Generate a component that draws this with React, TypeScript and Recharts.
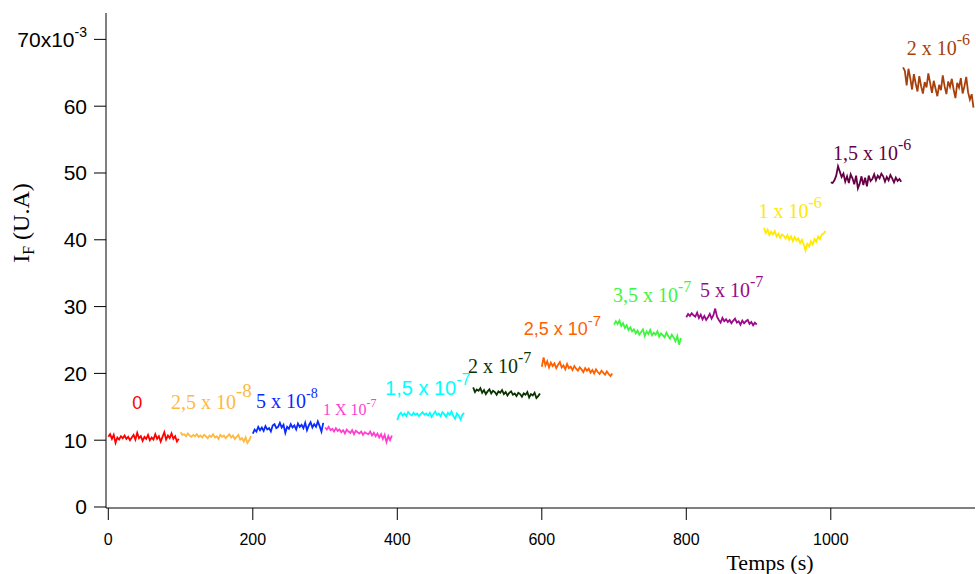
import React from 'react';
import { LineChart, Line, XAxis, YAxis, ReferenceDot } from 'recharts';

// time step between samples (s)
const STEP = 2.5;

const segmentStarts = [0, 100, 200, 300, 400, 505, 600, 700, 800, 907.5, 1000, 1100];

const conc0 = [10.5, 10.9, 10.2, 10.8, 9.6, 10.4, 10.1, 10.6, 10.3, 10.7, 10.2, 10.5, 10.0, 10.4, 10.8, 10.1, 11.1, 10.3, 10.6, 9.9, 10.5, 10.2, 10.8, 10.0, 10.4, 10.1, 10.9, 10.2, 10.6, 9.8, 10.5, 11.2, 10.1, 10.7, 10.3, 11.0, 10.2, 10.6, 9.8, 10.2];
const conc25e8 = [11.2, 10.8, 10.9, 10.6, 11.0, 10.7, 10.5, 10.8, 10.6, 10.9, 10.5, 10.7, 10.4, 10.8, 10.6, 10.3, 10.7, 10.5, 10.9, 10.4, 10.6, 10.2, 10.8, 10.5, 10.7, 10.3, 10.6, 10.9, 10.4, 10.7, 10.2, 10.5, 10.8, 10.1, 10.3, 9.8, 10.4, 9.6, 10.0, 10.6];
const conc5e8 = [11.0, 11.6, 11.3, 12.0, 11.5, 11.9, 11.4, 12.1, 11.6, 11.8, 11.3, 12.2, 12.4, 11.8, 12.0, 12.6, 11.9, 12.3, 11.1, 12.0, 11.7, 12.4, 11.9, 12.2, 11.6, 12.5, 12.0, 12.3, 11.8, 12.6, 11.5, 12.2, 12.7, 11.9, 12.4, 12.0, 12.8, 12.1, 11.3, 12.6];
const conc1e7 = [11.9, 11.6, 12.0, 11.5, 11.7, 11.3, 11.8, 11.4, 11.6, 11.2, 11.5, 11.0, 11.6, 11.3, 11.1, 11.5, 10.9, 11.4, 11.2, 11.0, 11.3, 10.8, 11.2, 11.0, 10.9, 11.3, 10.7, 11.1, 10.6, 11.0, 10.4, 10.9, 10.2, 10.8, 9.7, 10.6, 10.0, 10.7];
const conc15e7 = [13.0, 13.8, 14.1, 13.7, 14.0, 13.6, 14.2, 13.9, 13.7, 14.1, 13.8, 14.0, 13.6, 13.9, 14.2, 13.8, 14.0, 13.7, 14.1, 13.5, 13.9, 14.3, 13.8, 14.0, 13.6, 14.2, 13.9, 13.5, 14.1, 13.8, 14.3, 13.6, 13.2, 14.0, 13.7, 13.1, 13.8, 14.1];
const conc2e7 = [17.9, 17.2, 17.6, 17.4, 17.8, 17.1, 17.5, 16.9, 17.3, 17.6, 17.0, 17.4, 17.2, 16.8, 17.3, 17.1, 17.5, 16.9, 17.2, 16.7, 17.1, 17.3, 16.8, 17.0, 16.6, 17.1, 16.9, 16.5, 17.0, 16.8, 17.2, 16.4, 16.9, 16.7, 17.1, 16.3, 16.6, 17.0];
const conc25e7 = [21.0, 22.4, 21.2, 21.8, 20.9, 21.6, 21.1, 21.5, 20.8, 21.3, 21.7, 20.9, 21.2, 20.6, 21.4, 20.8, 21.0, 20.5, 21.1, 20.7, 20.4, 20.9, 20.6, 20.2, 20.8, 20.4, 20.7, 20.1, 20.5, 20.0, 20.6, 20.2, 19.9, 20.4, 20.1, 19.8, 20.3, 19.9, 19.6, 20.0];
const conc35e7 = [27.3, 27.8, 27.4, 27.9, 27.1, 27.5, 26.8, 27.2, 26.5, 26.9, 26.3, 26.6, 26.0, 26.4, 25.8, 26.2, 26.6, 25.6, 26.3, 25.9, 26.5, 25.7, 26.1, 25.8, 26.3, 25.5, 26.0, 25.7, 25.4, 26.1, 25.6, 25.2, 25.8, 25.4, 24.8, 25.6, 24.3, 25.3];
const conc5e7 = [28.4, 28.9, 28.6, 29.0, 28.7, 28.5, 29.1, 28.3, 28.8, 28.1, 28.6, 28.0, 28.4, 28.9, 28.2, 28.7, 29.7, 28.5, 28.0, 27.6, 28.3, 27.8, 28.1, 27.7, 28.0, 27.5, 27.9, 28.2, 27.6, 27.8, 27.3, 27.9, 27.5, 27.8, 28.0, 27.4, 27.7, 27.2, 27.6, 27.3];
const conc1e6 = [41.8, 41.0, 41.5, 40.7, 41.2, 40.8, 41.3, 40.5, 40.9, 40.3, 40.8, 40.6, 40.2, 40.7, 40.0, 40.5, 39.8, 40.4, 39.9, 40.2, 39.5, 40.0, 39.3, 38.4, 39.4, 39.0, 39.8, 39.3, 40.1, 39.7, 40.5, 40.1, 40.8, 40.9, 41.3];
const conc15e6 = [48.6, 48.5, 48.9, 49.6, 51.0, 50.2, 49.4, 49.9, 48.7, 49.5, 48.5, 49.8, 49.2, 48.3, 49.6, 47.7, 48.4, 49.5, 48.2, 49.3, 48.0, 49.6, 48.8, 49.1, 49.8, 48.9, 49.6, 49.2, 49.9, 49.5, 48.7, 49.4, 48.9, 49.7, 49.2, 48.6, 49.3, 48.8, 49.1, 48.7];
const conc2e6 = [65.8, 65.3, 63.1, 65.6, 64.2, 62.5, 64.8, 63.4, 62.2, 64.5, 63.0, 61.9, 63.6, 62.8, 64.9, 63.5, 62.0, 63.8, 62.6, 61.5, 63.2, 62.4, 64.6, 63.0, 61.8, 63.7, 62.9, 64.1, 62.5, 61.2, 63.5, 62.8, 64.2, 61.9, 63.0, 64.4, 62.1, 61.0, 61.8, 59.8];

const segmentValues = [conc0, conc25e8, conc5e8, conc1e7, conc15e7, conc2e7, conc25e7, conc35e7, conc5e7, conc1e6, conc15e6, conc2e6];

const labelBases = ['0', '2,5 x 10', '5 x 10', '1 X 10', '1,5 x 10', '2 x 10', '2,5 x 10', '3,5 x 10', '5 x 10', '1 x 10', '1,5 x 10', '2 x 10'];
const labelExps = ['', '-8', '-8', '-7', '-7', '-7', '-7', '-7', '-7', '-6', '-6', '-6'];

const COLORS = ['#FF0000', '#FFB940', '#0A2BFF', '#FF3FD0', '#00FFFF', '#0B3300', '#FF6000', '#3FF53F', '#9A0A8A', '#FFEA00', '#660044', '#A8400C'];

const xTicks = [0, 200, 400, 600, 800, 1000];
const yTicks = [0, 10, 20, 30, 40, 50, 60, 70];

// where each concentration label sits (data coords, text baseline start) + look
const LABEL_POS = [
  { x: 33, y: 14.7, sans: true, size: 18, sup: 14, dy: -9 },
  { x: 86.7, y: 14.7, sans: false, size: 20, sup: 19, dy: -12 },
  { x: 204.4, y: 14.8, sans: false, size: 20, sup: 14, dy: -10 },
  { x: 297, y: 13.8, sans: false, size: 16, sup: 12, dy: -8 },
  { x: 383, y: 16.8, sans: true, size: 20, sup: 16, dy: -10 },
  { x: 497.8, y: 20.1, sans: false, size: 20, sup: 16, dy: -10 },
  { x: 575, y: 25.7, sans: true, size: 18, sup: 15, dy: -9 },
  { x: 698.5, y: 30.7, sans: false, size: 20, sup: 16, dy: -10 },
  { x: 819, y: 31.4, sans: false, size: 20, sup: 16, dy: -10 },
  { x: 900, y: 43.2, sans: false, size: 20, sup: 16, dy: -10 },
  { x: 1003, y: 51.9, sans: false, size: 20, sup: 16, dy: -10 },
  { x: 1105, y: 67.7, sans: false, size: 20, sup: 16, dy: -10 },
];

const SERIF = '"Liberation Serif", "Times New Roman", serif';
const SANS = '"Liberation Sans", Arial, sans-serif';

const segments = segmentValues.map((vals, k) =>
  vals.map((v, i) => ({ t: segmentStarts[k] + i * STEP, v }))
);

const YTick = (props: any) => {
  const { x, y, payload } = props;
  if (payload.value === 70) {
    return (
      <text x={x} y={y + 7.5} textAnchor="end" fontFamily={SANS} fontSize={21} fill="#000">
        70x10<tspan dy={-10} fontSize={14}>-3</tspan>
      </text>
    );
  }
  return (
    <text x={x} y={y + 7.5} textAnchor="end" fontFamily={SANS} fontSize={21} fill="#000">
      {payload.value}
    </text>
  );
};

const XTick = (props: any) => {
  const { x, payload } = props;
  return (
    <text x={x} y={545} textAnchor="middle" fontFamily={SANS} fontSize={16} fill="#000">
      {payload.value}
    </text>
  );
};

const renderConcLabel = (k: number) => (p: any) => {
  const vb = p.viewBox;
  if (!vb) return null;
  const pos = LABEL_POS[k];
  return (
    <text x={vb.x} y={vb.y} fill={COLORS[k]} fontFamily={pos.sans ? SANS : SERIF} fontSize={pos.size}>
      {labelBases[k]}
      {labelExps[k] ? <tspan dy={pos.dy} fontSize={pos.sup}>{labelExps[k]}</tspan> : null}
    </text>
  );
};

export default function App() {
  return (
    <div style={{ position: 'absolute', left: 0, top: 0, width: 976, height: 574, background: '#fff' }}>
      <LineChart width={976} height={574} margin={{ top: 13, right: 1, left: 46, bottom: 36 }}>
        <XAxis
          dataKey="t"
          type="number"
          domain={[-3.2, 1199.6]}
          allowDataOverflow
          ticks={xTicks}
          tick={<XTick />}
          tickSize={12}
          height={30}
          stroke="#000"
          tickLine={{ stroke: '#000' }}
          axisLine={{ stroke: '#000' }}
        />
        <YAxis
          type="number"
          domain={[-0.15, 73.95]}
          allowDataOverflow
          ticks={yTicks}
          tick={<YTick />}
          tickSize={12}
          tickMargin={7}
          width={60}
          stroke="#000"
          tickLine={{ stroke: '#000' }}
          axisLine={{ stroke: '#000' }}
        />
        {segments.map((seg, k) => (
          <Line
            key={`seg-${k}`}
            data={seg}
            dataKey="v"
            type="linear"
            stroke={COLORS[k]}
            strokeWidth={1.8}
            dot={false}
            activeDot={false}
            isAnimationActive={false}
          />
        ))}
        {LABEL_POS.map((pos, k) => (
          <ReferenceDot
            key={`lab-${k}`}
            x={pos.x}
            y={pos.y}
            r={0}
            fill="none"
            stroke="none"
            label={{ content: renderConcLabel(k) }}
          />
        ))}
      </LineChart>
      <svg width={976} height={574} style={{ position: 'absolute', left: 0, top: 0, pointerEvents: 'none' }}>
        <text x={29} y={223} transform="rotate(-90, 29, 223)" textAnchor="middle" fontFamily={SERIF} fontSize={24} fill="#000">
          I<tspan dy={5} fontSize={16}>F</tspan><tspan dy={-5}> (U.A)</tspan>
        </text>
        <text x={770} y={570} textAnchor="middle" fontFamily={SERIF} fontSize={22} fill="#000">
          Temps (s)
        </text>
      </svg>
    </div>
  );
}
